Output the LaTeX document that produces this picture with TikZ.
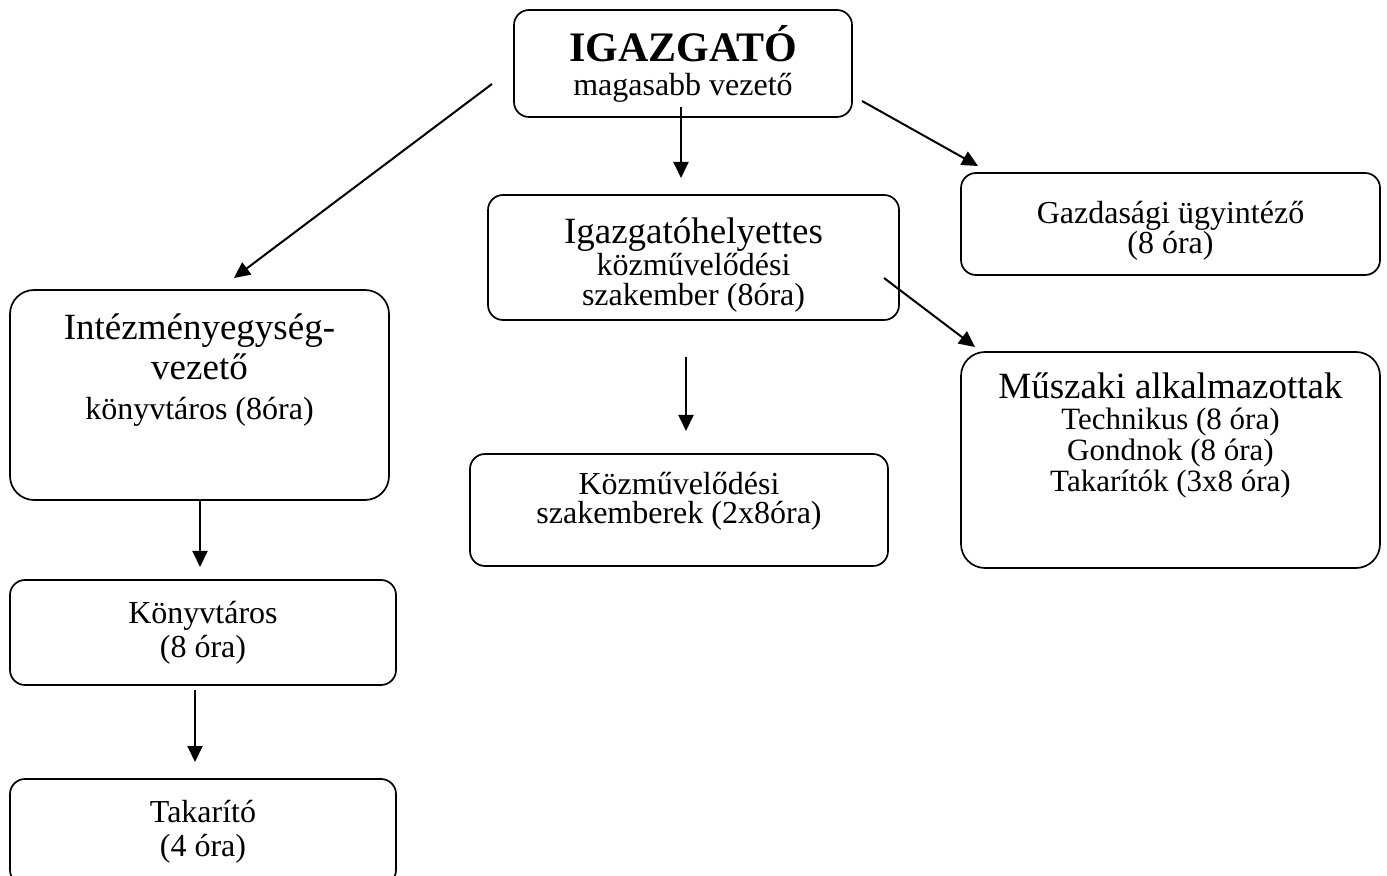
\documentclass[tikz,border=0pt]{standalone}
\usepackage{fontspec}
\setmainfont{Liberation Serif}
\usetikzlibrary{arrows.meta}

\newcommand{\headbig}{\fontsize{21}{23}\selectfont\bfseries}
\newcommand{\titlebig}{\fontsize{18.5}{20}\selectfont}
% text set from the top of a box: height, width, top gap, line skip, text
\newcommand{\boxtext}[5]{\parbox[c][#1][t]{#2}{\vspace*{#3}\centering\fontsize{16}{#4}\selectfont #5}}

\tikzset{
  box/.style={draw,line width=0.85pt,rounded corners=7.5pt,align=center,inner sep=2pt,
    font=\fontsize{16}{17}\selectfont},
  topbox/.style={box,inner sep=0pt},
  arr/.style={line width=1pt,-{Triangle[length=8pt,width=7.5pt]}},
}

\begin{document}
\begin{tikzpicture}[x=0.5pt,y=-0.5pt]
\useasboundingbox (0,0) rectangle (1387,876);

% boxes
\node[box,minimum width=169pt,minimum height=53.5pt] (igazgato) at (683,63.5)
  {{\headbig IGAZGATÓ}\\magasabb vezető};
\node[topbox] (gazdasagi) at (1170.5,224)
  {\boxtext{51pt}{209.5pt}{14pt}{15pt}{Gazdasági ügyintéző\\(8 óra)}};
\node[topbox] (helyettes) at (693.5,257.5)
  {\boxtext{62.5pt}{205.5pt}{11.4pt}{15pt}{{\titlebig Igazgatóhelyettes}\\közművelődési\\szakember (8óra)}};
\node[topbox,rounded corners=12pt] (intezmeny) at (199.5,395)
  {\boxtext{105pt}{189.5pt}{12pt}{20pt}{{\titlebig Intézményegység-\\vezető}\\könyvtáros (8óra)}};
\node[topbox,rounded corners=12pt] (muszaki) at (1170.5,460)
  {\parbox[c][108pt][t]{209.5pt}{\vspace*{10.5pt}\centering\fontsize{15.5}{15.5}\selectfont
   {\titlebig Műszaki alkalmazottak}\\Technikus (8 óra)\\Gondnok (8 óra)\\Takarítók (3x8 óra)}};
\node[topbox] (kozmuv) at (679,510)
  {\boxtext{56pt}{209pt}{9pt}{14.5pt}{Közművelődési\\szakemberek (2x8óra)}};
\node[box,minimum width=193pt,minimum height=52.5pt] (konyvtaros) at (203,632.5)
  {Könyvtáros\\(8 óra)};
\node[box,minimum width=193pt,minimum height=53pt] (takarito) at (203,832)
  {Takarító\\(4 óra)};

% arrow ends
\coordinate (igl) at (492,84);    \coordinate (inl) at (234,278);
\coordinate (igm) at (681,107);   \coordinate (hem) at (681,178);
\coordinate (igr) at (862,101);   \coordinate (gar) at (978,166);
\coordinate (her) at (884,278);   \coordinate (mur) at (975,347);
\coordinate (hed) at (686,357);   \coordinate (kod) at (686,431);
\coordinate (ind) at (200,500);   \coordinate (kyd) at (200,567);
\coordinate (kyb) at (195,690);   \coordinate (tab) at (195,762);

\draw[arr] (igl) -- (inl);
\draw[arr] (igm) -- (hem);
\draw[arr] (igr) -- (gar);
\draw[arr] (her) -- (mur);
\draw[arr] (hed) -- (kod);
\draw[arr] (ind) -- (kyd);
\draw[arr] (kyb) -- (tab);

\end{tikzpicture}
\end{document}
